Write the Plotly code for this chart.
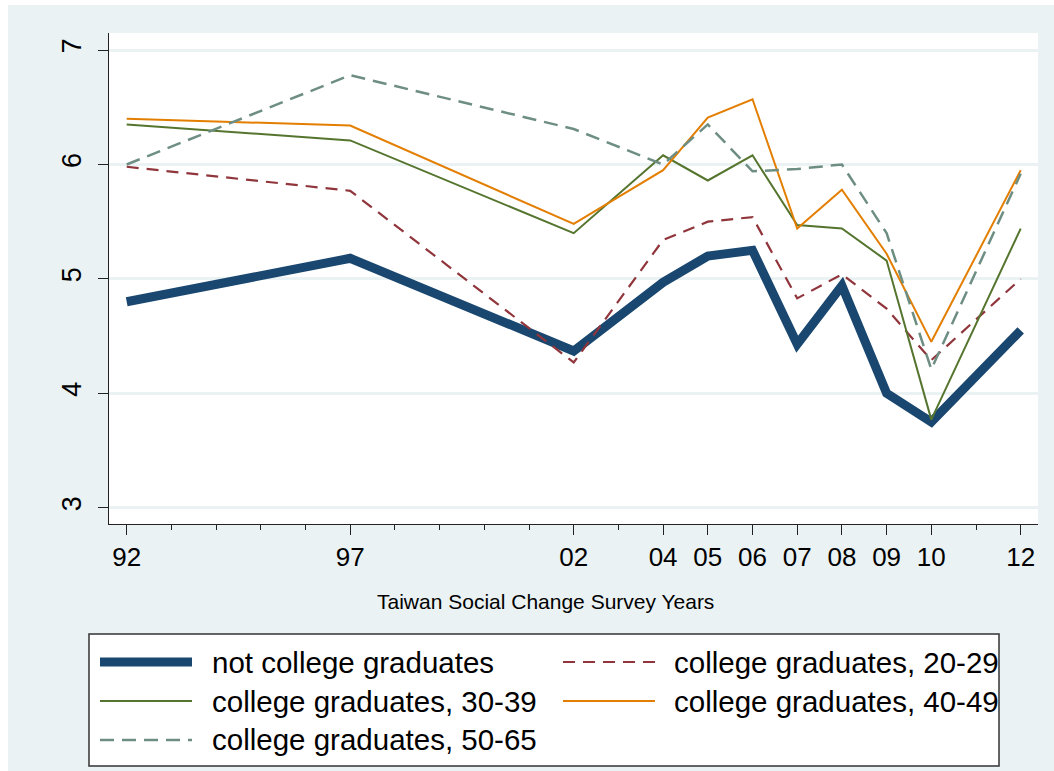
import plotly.graph_objects as go

# ---- data ----
years = [1992, 1997, 2002, 2004, 2005, 2006, 2007, 2008, 2009, 2010, 2012]
year_labels = ["92", "97", "02", "04", "05", "06", "07", "08", "09", "10", "12"]
not_college = [4.80, 5.18, 4.37, 4.97, 5.20, 5.25, 4.43, 4.94, 4.00, 3.75, 4.55]
college_20_29 = [5.98, 5.77, 4.27, 5.34, 5.50, 5.54, 4.83, 5.04, 4.74, 4.29, 5.00]
college_30_39 = [6.35, 6.21, 5.40, 6.08, 5.86, 6.08, 5.47, 5.44, 5.16, 3.77, 5.44]
college_40_49 = [6.40, 6.34, 5.48, 5.95, 6.41, 6.57, 5.44, 5.78, 5.22, 4.45, 5.95]
college_50_65 = [6.00, 6.78, 6.31, 6.00, 6.35, 5.94, 5.96, 6.00, 5.40, 4.21, 5.92]
y_ticks = [3, 4, 5, 6, 7]
x_title = "Taiwan Social Change Survey Years"

series_names = ["not college graduates", "college graduates, 20-29",
                "college graduates, 30-39", "college graduates, 40-49",
                "college graduates, 50-65"]
series_values = [not_college, college_20_29, college_30_39, college_40_49, college_50_65]
series_colors = ["#1A476F", "#90353B", "#55752F", "#E37E00", "#6E8E84"]
series_widths = [9, 2.2, 2, 2, 2.5]
series_dash = ["solid", "12px,8px", "solid", "solid", "14px,8px"]

W, H = 1054, 771
L, R, T, B = 109, 16, 33, 247
PW, PH = W - L - R, H - T - B

def px_x(px):
    return (px - L) / PW

def px_y(py):
    return (H - B - py) / PH

BG = "#EAF2F3"
FONT = "Arial, Liberation Sans, sans-serif"

fig = go.Figure()
for name, vals, col, w, d in zip(series_names, series_values, series_colors, series_widths, series_dash):
    fig.add_trace(go.Scatter(x=years, y=vals, mode="lines", name=name,
                             line=dict(color=col, width=w, dash=d),
                             showlegend=False))

shapes = []
annotations = []
# white strips at the image edges
shapes.append(dict(type="rect", xref="paper", yref="paper", x0=px_x(0), x1=px_x(8),
                   y0=px_y(H), y1=px_y(0), fillcolor="white", line=dict(width=0), layer="below"))
shapes.append(dict(type="rect", xref="paper", yref="paper", x0=px_x(0), x1=px_x(W),
                   y0=px_y(5), y1=px_y(0), fillcolor="white", line=dict(width=0), layer="below"))

# x-axis title (slightly left of plot centre, as in the reference)
annotations.append(dict(xref="paper", yref="paper", x=px_x(545), y=px_y(601), text=x_title,
                        showarrow=False, xanchor="center", yanchor="middle",
                        font=dict(family=FONT, size=21, color="black")))

# legend box
shapes.append(dict(type="rect", xref="paper", yref="paper", x0=px_x(89), x1=px_x(999),
                   y0=px_y(766), y1=px_y(634), fillcolor="white",
                   line=dict(color="#333333", width=1.5), layer="above"))
cols_x = [(100, 192, 210), (563, 655, 672)]
rows_y = [662, 701, 740]
for i, (name, col, w, d) in enumerate(zip(series_names, series_colors, series_widths, series_dash)):
    r, c = divmod(i, 2)
    x0, x1, xt = cols_x[c]
    yy = rows_y[r]
    shapes.append(dict(type="line", xref="paper", yref="paper", x0=px_x(x0), x1=px_x(x1),
                       y0=px_y(yy), y1=px_y(yy), line=dict(color=col, width=w, dash=d),
                       layer="above"))
    annotations.append(dict(xref="paper", yref="paper", x=px_x(xt), y=px_y(yy), text=name,
                            showarrow=False, xanchor="left", yanchor="middle",
                            font=dict(family=FONT, size=29.5, color="black")))

fig.update_layout(
    width=W, height=H,
    margin=dict(l=L, r=R, t=T, b=B),
    paper_bgcolor=BG, plot_bgcolor="white",
    font=dict(family=FONT, color="black"),
    shapes=shapes, annotations=annotations,
    showlegend=False,
    xaxis=dict(range=[1991.604, 2012.387], tickvals=years, ticktext=year_labels,
               showgrid=False, zeroline=False, showline=True, linecolor="#222222", linewidth=1.3,
               ticks="outside", ticklen=10, tickwidth=1.3, tickcolor="#222222",
               tickfont=dict(size=26, family=FONT, color="black"),
               minor=dict(dtick=1, tick0=1992, ticks="outside", ticklen=5, tickwidth=1.3,
                          tickcolor="#222222", showgrid=False)),
    yaxis=dict(range=[2.858, 7.149], tickvals=y_ticks, ticktext=[str(v) for v in y_ticks],
               showgrid=True, gridcolor=BG, gridwidth=2.5, zeroline=False,
               showline=True, linecolor="#222222", linewidth=1.3,
               ticks="outside", ticklen=10, tickwidth=1.3, tickcolor="#222222",
               ticklabelstandoff=6,
               tickangle=-90, tickfont=dict(size=27, family=FONT, color="black")),
)

fig.write_html("out.html")
